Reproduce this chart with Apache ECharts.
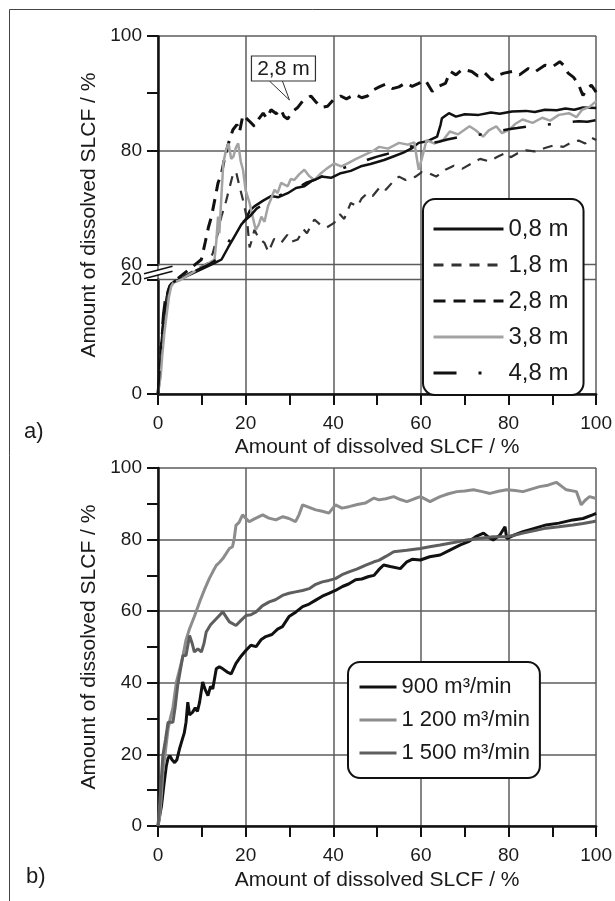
<!DOCTYPE html>
<html><head><meta charset="utf-8">
<script src="https://cdn.jsdelivr.net/npm/echarts@6/dist/echarts.min.js"></script>
<style>html,body{margin:0;padding:0;background:#fff}#c{width:615px;height:901px}</style>
</head><body><div id="c"></div>
<script>
const FONT = "'Liberation Sans', Arial, Helvetica, sans-serif";
const axisTitle = 'Amount of dissolved SLCF / %';
const namesA = ['0,8 m', '1,8 m', '2,8 m', '3,8 m', '4,8 m'];
const namesB = ['900 m\u00b3/min', '1 200 m\u00b3/min', '1 500 m\u00b3/min'];
const yBreak = [20, 60];
const calloutText = '2,8 m';
const calloutPoint = [30, 88.8];

// ---- chart a) ----
const a08 = [[0,0],[0.4,4],[0.8,9],[1.2,12],[1.6,15],[2,17],[2.6,18.8],[3.2,19.4],[4.5,19.9],
  [13,60.3],[14.5,60.9],[16,63],[17.5,65],[19,67],[20,67.9],[21,69.5],[22,70.2],[24,71.2],[25.8,72],[27.5,71.8],[29.6,72.5],[31.5,73.4],[33.4,73.7],[35,74.6],[37.2,75.4],[39.5,75.2],[41.7,76],[44,76.4],[46.3,77.2],[48.5,77.6],[51.6,78.3],[54,79],[56,79.6],[58,80.4],[59.5,81.3],[61.5,81.6],[63.7,82.4],[64.5,84.5],[64.8,85.6],[66.4,86.5],[68,85.9],[70,86.3],[73.2,86.2],[76,86.6],[78,86.4],[80.8,86.8],[84,86.9],[86,86.7],[88.3,87.1],[91,87.0],[93,87.3],[95,87.1],[97,87.5],[100,87.4]];
const a18 = [[0,0],[0.5,4],[1,9],[1.4,13],[1.9,16],[2.4,18],[3,19.2],[4,19.8],
  [11.5,60.3],[12.5,62],[13.5,65],[14.5,68.5],[15.5,71],[16.5,74],[17.1,75.8],[17.8,76.3],[18.5,74],[19.5,71],[20.3,68],[20.9,63],[21.5,64.5],[22,66.1],[23,64.6],[24.3,63.8],[25.2,62.2],[26.5,64.5],[28.1,63.8],[29.5,65.2],[30.5,64],[31.9,64.4],[33.2,66.2],[34,65.5],[35.7,67.9],[37,67],[38.5,66.5],[40.2,67.3],[41.5,68.8],[42.5,68],[44,70.8],[45.5,70.2],[46.5,71.6],[47.8,72.5],[49,72],[50.8,73.7],[52,73.1],[53.5,74.4],[55,75.4],[56.5,74.8],[58.8,75.4],[60.2,76.2],[61.8,76],[63.5,75.4],[65.6,76.6],[67.5,77.3],[69.5,76.8],[71.6,77.7],[73.5,78.5],[75.5,78.1],[77.6,78.9],[79.5,79.6],[80.5,78.8],[82.1,79.5],[84,80],[86,79.8],[88.3,80.4],[90.5,80.9],[92.5,80.6],[94.2,81.3],[96,81.7],[97.5,81.2],[98.9,82.2],[100,81.8]];
const a28 = [[0,0],[0.5,5],[0.9,10],[1.3,13],[1.8,16],[2.3,18],[2.8,19],[3.5,19.6],[4.2,20],
  [9.9,60.9],[10.8,64],[11.5,66.5],[12.2,68.4],[13,71.5],[13.7,74.3],[14.5,76],[15.3,79],[16.2,81.5],[17.1,83.6],[18,84.5],[18.6,83.2],[19.4,86.2],[20.3,85.5],[21,85],[22,84.2],[23,85.5],[24,86.5],[24.8,85.6],[25.8,87.1],[27,86.4],[28,87.2],[28.8,85.9],[29.6,85.5],[30.7,86.8],[31.9,87.5],[33,88.6],[34.9,89.5],[36,88.5],[37.2,87.5],[38.7,87.7],[40,88.8],[41.7,89.5],[43,89],[45,89.8],[46.5,89.2],[47.8,89.5],[49,90.5],[50.5,91.1],[52,91.6],[53.5,90.8],[55,91.1],[56.5,91.8],[58,91.2],[59.5,91.7],[61,92.3],[62.6,90.3],[64,91.2],[65.6,91.7],[66.7,93.8],[68,93.2],[69.5,94.2],[71.6,93.8],[73,93],[74.5,93.6],[76.2,92.3],[77.5,93.1],[79,93.5],[80.8,93.8],[82.5,93.2],[84.5,94.3],[86,93.7],[88.3,94.9],[90,94.6],[91.7,95.5],[92.7,94.8],[93.6,93.5],[94.8,92.8],[95.9,91.7],[96.5,90.5],[97,89.6],[98,90.8],[98.9,91.4],[100,90.2]];
const a38 = [[0,0],[0.6,3],[1,7],[1.5,11],[2,14],[2.5,17],[3,18.8],[3.6,19.5],[5,19.9],
  [12.9,60.9],[13.3,64],[13.7,68.4],[14,65.5],[14.4,71],[14.9,77.7],[15.5,80],[16.1,81.2],[16.7,78.5],[17.2,78.9],[17.8,80.5],[18.3,81.2],[18.9,78],[19.4,76.6],[20,73],[20.9,70.8],[21.6,68.4],[22.3,66.1],[23,67],[23.6,68.4],[24.3,67.5],[25.1,70.2],[25.8,71.5],[26.6,73.1],[27.3,72.5],[28.1,74.3],[29.6,73.7],[30.3,75],[31.1,74.8],[32.2,75.8],[33.4,76.6],[34.5,75.5],[35.7,74.8],[37.2,76],[38.5,76.8],[40.2,77.7],[41.8,77.2],[43.3,77.7],[45,78.4],[46.3,78.9],[48,79.5],[49.3,80],[50.5,80.6],[52.5,80.3],[55,81.3],[57,81],[58.5,81.4],[59.2,78],[59.5,76.6],[60.2,78.5],[61.3,81.8],[63,81.2],[65.1,81.8],[66.6,83.3],[68.5,82.8],[71.1,84.2],[72.5,83.5],[74.2,82.4],[75.5,83.5],[77.2,84.2],[78.5,83],[80.2,83.6],[81.5,84.6],[83.2,85.4],[85.5,84.8],[87.7,85.7],[89.5,85.2],[91.5,86.2],[93.8,86.5],[95.5,85.8],[96.8,87.1],[98.5,87.6],[100,88.6]];
const a48 = [[0,0],[0.4,5],[0.8,10],[1.2,14],[1.7,17],[2.2,18.6],[2.8,19.3],[4,19.8],
  [12,60.2],[13.5,61],[15,62.5],[16.5,64.5],[18,66],[19.5,67.5],[21,68.5],[22.5,69.8],[24,70.5],[26,71.4],[28,72.2],[30,72.8],[32,73.5],[34,74.4],[36,74.9],[38,75.6],[40,76.2],[42,76.8],[44,77.4],[46,77.8],[48,78.4],[50,78.9],[52,79.3],[54,79.8],[56,80.4],[58,80.7],[60,81],[62,81.2],[64.1,81.5],[66,81.9],[68,82.2],[70,82.5],[73.2,82.7],[76,83.2],[78,83.4],[80,83.7],[82,83.9],[84.5,84.2],[87,84.4],[90,84.6],[93,84.9],[96,85.1],[98,85],[100,85.3]];

// ---- chart b) ----
const b900 = [[0,0],[0.4,3],[0.8,5.6],[1.3,11],[1.9,16.8],[2.3,19],[2.7,19.6],[3.2,18.5],[3.8,17.7],[4.3,18.5],[4.9,21.5],[5.5,24],[6,26],[6.4,29],[6.8,34.6],[7.2,31],[7.9,31.8],[8.5,33],[9,32],[9.5,34.6],[10.2,40.2],[10.8,38],[11.4,36.4],[12,39],[12.5,38.3],[13.3,43.9],[14,44.5],[14.8,43.9],[15.8,43],[16.7,42.5],[17.8,45.4],[19,47.5],[20.1,49.1],[21.2,50.5],[22.4,50.1],[23.5,52],[24.6,52.9],[26,53.5],[27.3,55],[28.4,55.7],[29.9,58.5],[31.5,59.8],[33,61.3],[34.5,62],[36,63.1],[37.5,64.2],[39,65],[40.5,65.8],[42.1,66.9],[43.5,67.6],[45.1,68.8],[46.5,69],[48.1,69.7],[49.3,70],[50.4,71.6],[51.5,72.9],[53,72.5],[55.3,71.9],[56.8,73.8],[58,74.5],[59.9,74.3],[62,75.2],[64.4,75.7],[66.5,77],[69,78.5],[71,79.5],[72.5,80.8],[74.3,81.8],[75.5,80.6],[76.5,79.9],[78,81.2],[79.2,83.6],[79.6,80.3],[81.5,81.4],[83.3,82.2],[85.5,83],[88.6,84.1],[91.5,84.6],[94.7,85.5],[97,85.9],[99.2,86.9],[100,87.3]];
const b1200 = [[0,0],[0.4,2.8],[0.8,9],[1.1,14.9],[1.7,21],[2.3,27.1],[2.8,30],[3.4,33],[4.2,40.2],[5,44],[5.7,47.6],[6.4,52],[7.2,55.1],[8.3,58.5],[9.5,62.6],[10.6,66],[11.7,69.1],[12.5,71],[13.3,72.8],[14,73.6],[14.8,74.7],[15.5,76],[16.3,77.5],[17,78],[17.4,80.3],[17.8,84],[18.5,84.8],[19.3,86.9],[20,86],[20.8,85],[22,85.8],[23.9,86.9],[25.3,86],[26.9,85.5],[28.5,86.4],[29.9,85.9],[31.4,85],[32.2,87],[33,89.7],[34.5,89],[36,88.3],[37.5,87.9],[39,87.4],[40.5,89.7],[42,88.8],[43.6,89.2],[45.5,89.8],[47.3,90.2],[49.3,91.6],[50.4,91.1],[52,91.4],[53.8,92],[55.3,91.2],[56.8,90.6],[58.5,91.4],[59.9,92],[61,91.3],[62.1,90.6],[63.2,91.3],[64.4,92],[66.3,92.8],[68.2,93.4],[70,93.6],[72,93.9],[74,93.4],[75.8,92.9],[77.7,93.5],[79.6,93.9],[81.5,93.7],[83.3,93.4],[85.2,94.1],[87.1,94.8],[89,95.2],[90.9,96],[92,95],[93.2,93.9],[95.5,93.4],[96.6,89.7],[97.5,91],[98.5,92],[100,91.5]];
const b1500 = [[0,0],[0.5,8],[1.1,19.6],[1.7,24],[2.3,29],[3.4,29],[3.9,33],[4.5,39.3],[5.1,43.5],[5.7,47.6],[6.4,47.6],[7.2,53.2],[7.8,51],[8.3,48.6],[9.1,49.5],[9.9,48.6],[10.5,51],[11,54.2],[12,56.2],[13.3,57.9],[14.8,59.8],[15.5,58.5],[16.3,57],[17.8,56],[19,57.5],[20.1,58.8],[21.2,59],[22.4,59.8],[23.8,61.5],[25.4,62.6],[26.8,63.2],[28.4,64.4],[29.9,65],[31.4,65.4],[33,65.8],[34.5,66.3],[36,67.5],[37.5,68.2],[39,68.6],[40.5,69.1],[42,70.2],[43.6,71],[45.5,71.8],[47.3,72.8],[49.3,73.8],[50.4,74.2],[52,75.3],[53.8,76.6],[56.8,77],[59.9,77.5],[62,78],[64.4,78.5],[67.5,79.2],[70.5,79.9],[73.5,80.4],[76.5,80.8],[79.6,80.8],[81.5,81.3],[83.3,81.8],[86,82.5],[88.6,83.2],[91.5,83.6],[94.7,84.1],[97,84.5],[99.2,85],[100,85.2]];

const TXT = '#1a1a1a';
const GRID = '#5c5c5c';

function xAxisCfg(gi, gap) {
  return {
    type: 'value', gridIndex: gi, min: 0, max: 100, interval: 20,
    axisLine: { show: true, onZero: false, lineStyle: { color: '#111', width: 2.5 } },
    axisTick: { show: true, length: 11, lineStyle: { color: '#111', width: 2 } },
    minorTick: { show: true, splitNumber: 2, length: 11, lineStyle: { color: '#111', width: 2 } },
    splitLine: { show: true, lineStyle: { color: GRID, width: 1.5 } },
    axisLabel: { fontSize: 19, color: TXT, margin: 20, fontFamily: FONT },
    name: axisTitle, nameLocation: 'middle', nameGap: gap,
    nameTextStyle: { fontSize: 21, color: TXT, fontFamily: FONT }
  };
}
function yAxisCfg(gi) {
  return {
    type: 'value', gridIndex: gi, min: 0, max: 100, interval: 20,
    axisLine: { show: true, onZero: false, lineStyle: { color: '#111', width: 2.5 } },
    axisTick: { show: true, length: 11, lineStyle: { color: '#111', width: 2 } },
    minorTick: { show: true, splitNumber: 2, length: 11, lineStyle: { color: '#111', width: 2 } },
    splitLine: { show: true, lineStyle: { color: GRID, width: 1.5 } },
    axisLabel: { fontSize: 19, color: TXT, margin: 16, fontFamily: FONT },
    name: axisTitle, nameLocation: 'middle', nameGap: 47, nameRotate: 90,
    nameTextStyle: { fontSize: 21, color: TXT, fontFamily: FONT }
  };
}
const yTop = yAxisCfg(0);
yTop.breaks = [{ start: yBreak[0], end: yBreak[1], gap: '4.2%' }];
yTop.breakArea = {
  show: true, expandOnClick: false, zigzagAmplitude: 0, zigzagZ: 1,
  itemStyle: { color: 'rgba(255,255,255,0)', borderColor: GRID, borderWidth: 1.5, borderType: 'solid', opacity: 1 }
};
yTop.breakLabelLayout = { moveOverlap: false };

function line(name, data, xi, color, width, type) {
  return {
    name, type: 'line', data, xAxisIndex: xi, yAxisIndex: xi,
    symbol: 'none', showSymbol: false, smooth: false, animation: false,
    lineStyle: { color, width, type: type || 'solid' }, itemStyle: { color }
  };
}

const legendBase = {
  orient: 'vertical', backgroundColor: '#fff', borderColor: '#111', borderWidth: 2,
  borderRadius: 12,
  itemStyle: { opacity: 0, borderWidth: 0 },
  lineStyle: { width: 3 }
};

const chart = echarts.init(document.getElementById('c'), null, { renderer: 'canvas' });
chart.setOption({
  backgroundColor: '#fff',
  animation: false,
  grid: [
    { left: 158, right: 17, top: 36, height: 358 },
    { left: 158, right: 17, top: 468, height: 358 }
  ],
  xAxis: [xAxisCfg(0, 43), xAxisCfg(1, 44)],
  yAxis: [yTop, yAxisCfg(1)],
  legend: [
    Object.assign({}, legendBase, {
      data: namesA, left: 423, top: 199, itemWidth: 70, itemHeight: 22, itemGap: 12,
      padding: [18, 15, 10, 9],
      textStyle: { fontSize: 24, color: TXT, fontFamily: FONT, lineHeight: 22 }
    }),
    Object.assign({}, legendBase, {
      data: namesB, left: 348, top: 662, itemWidth: 37, itemHeight: 18, itemGap: 11,
      padding: [14, 10, 14, 10],
      textStyle: { fontSize: 22, color: TXT, fontFamily: FONT, lineHeight: 18 }
    })
  ],
  series: [
    line(namesA[0], a08, 0, '#111', 2.5),
    line(namesA[1], a18, 0, '#333', 2.2, [10, 8]),
    line(namesA[2], a28, 0, '#111', 3, [12, 8]),
    line(namesA[3], a38, 0, '#a3a3a3', 2.5),
    line(namesA[4], a48, 0, '#111', 2.5, [23, 22, 3, 22]),
    line(namesB[0], b900, 1, '#111', 3),
    line(namesB[1], b1200, 1, '#8c8c8c', 3),
    line(namesB[2], b1500, 1, '#5e5e5e', 3)
  ]
});

// decorations: frame, panel letters, axis break marks and callout
const x0 = chart.convertToPixel({ xAxisIndex: 0 }, 0);
const y60 = chart.convertToPixel({ yAxisIndex: 0 }, yBreak[1]);
const y20 = chart.convertToPixel({ yAxisIndex: 0 }, yBreak[0]);
const mid = (y60 + y20) / 2;
const cp = chart.convertToPixel({ xAxisIndex: 0, yAxisIndex: 0 }, calloutPoint);
const bx = cp[0] - 38, by = cp[1] - 44, bw = 64, bh = 25;
chart.setOption({
  graphic: [
    { type: 'rect', shape: { x: 9.5, y: 9.5, width: 700, height: 1000 }, style: { fill: 'none', stroke: '#444', lineWidth: 1 }, silent: true, z: 0 },
    { type: 'text', left: 24, top: 421, style: { text: 'a)', fontSize: 22, fill: TXT, fontFamily: FONT } },
    { type: 'text', left: 26, top: 866, style: { text: 'b)', fontSize: 22, fill: TXT, fontFamily: FONT } },
    { type: 'polygon', shape: { points: [[x0 - 14, mid + 1.5], [x0 + 14.5, mid - 6], [x0 + 14.5, mid - 1], [x0 - 14, mid + 6.5]] }, style: { fill: '#fff' }, z: 50 },
    { type: 'line', shape: { x1: x0 - 14, y1: mid + 1.5, x2: x0 + 14.5, y2: mid - 6 }, style: { stroke: '#111', lineWidth: 1.5 }, z: 51 },
    { type: 'line', shape: { x1: x0 - 14, y1: mid + 6.5, x2: x0 + 14.5, y2: mid - 1 }, style: { stroke: '#111', lineWidth: 1.5 }, z: 51 },
    { type: 'line', shape: { x1: bx + 18, y1: by + bh, x2: cp[0], y2: cp[1] }, style: { stroke: '#333', lineWidth: 1 }, z: 60 },
    { type: 'line', shape: { x1: bx + 31, y1: by + bh, x2: cp[0], y2: cp[1] }, style: { stroke: '#333', lineWidth: 1 }, z: 60 },
    { type: 'rect', shape: { x: bx, y: by, width: bw, height: bh }, style: { fill: '#fff', stroke: '#333', lineWidth: 1.2 }, z: 60 },
    { type: 'text', x: bx + bw / 2, y: by + bh / 2 + 1, style: { text: calloutText, fontSize: 21, fill: TXT, fontFamily: FONT, align: 'center', verticalAlign: 'middle' }, z: 61 }
  ]
});
</script></body></html>
